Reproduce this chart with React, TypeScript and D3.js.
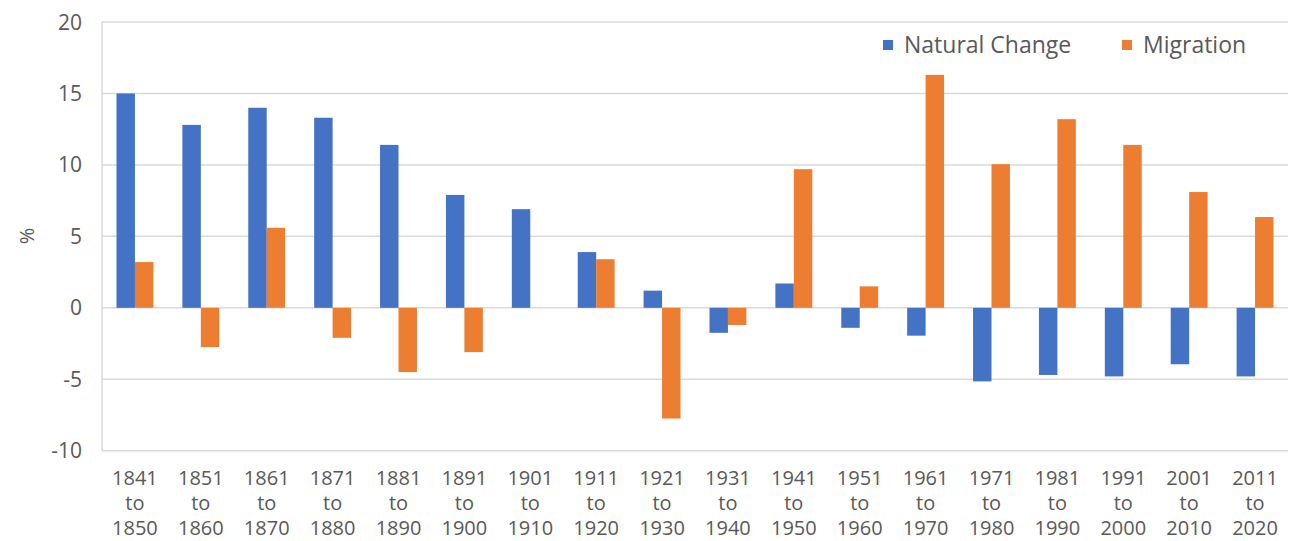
import React from "react";
import * as d3 from "d3";

const categories = [
  ["1841", "1850"], ["1851", "1860"], ["1861", "1870"], ["1871", "1880"],
  ["1881", "1890"], ["1891", "1900"], ["1901", "1910"], ["1911", "1920"],
  ["1921", "1930"], ["1931", "1940"], ["1941", "1950"], ["1951", "1960"],
  ["1961", "1970"], ["1971", "1980"], ["1981", "1990"], ["1991", "2000"],
  ["2001", "2010"], ["2011", "2020"],
];
const naturalChange = [15.0, 12.8, 14.0, 13.3, 11.4, 7.9, 6.9, 3.9, 1.2, -1.75, 1.7, -1.4, -1.95, -5.15, -4.7, -4.8, -3.95, -4.8];
const migration = [3.2, -2.75, 5.6, -2.1, -4.5, -3.1, 0, 3.4, -7.75, -1.2, 9.7, 1.5, 16.3, 10.05, 13.2, 11.4, 8.1, 6.35];
const seriesNames = ["Natural Change", "Migration"];
const yTicks = [-10, -5, 0, 5, 10, 15, 20];

const colors = ["#4472C4", "#ED7D31"];
const W = 1294, H = 541;
const left = 102, right = 1288, top = 22, bottom = 450.7;
const font = "'Open Sans', sans-serif";
const textColor = "#595959";

export default function App() {
  const keys = categories.map((c) => c[0]);
  const x = d3.scaleBand<string>().domain(keys).range([left, right]).paddingInner(0.44).paddingOuter(0.22);
  const xs = d3.scaleBand<string>().domain(seriesNames).range([0, x.bandwidth()]);
  const y = d3.scaleLinear().domain([-10, 20]).range([bottom, top]);
  const series = [naturalChange, migration];

  return (
    <svg width={W} height={H} style={{ position: "absolute", left: 0, top: 0, background: "#fff" }}>
      {yTicks.map((t) => (
        <g key={t}>
          <line x1={left} x2={right} y1={y(t)} y2={y(t)} stroke="#D9D9D9" strokeWidth={1.5} />
          <text x={82} y={y(t)} dy="0.36em" textAnchor="end" fontFamily={font} fontSize={21} fill={textColor}>
            {t}
          </text>
        </g>
      ))}
      <line x1={left} x2={left} y1={top} y2={bottom} stroke="#D9D9D9" strokeWidth={1.5} />
      <text transform={`translate(34,236) rotate(-90)`} textAnchor="middle" fontFamily={font} fontSize={20} fill={textColor}>
        %
      </text>
      {series.map((vals, si) =>
        vals.map((v, i) => {
          const x0 = (x(keys[i]) as number) + (xs(seriesNames[si]) as number);
          const y0 = y(Math.max(0, v));
          const h = Math.abs(y(v) - y(0));
          return <rect key={`${si}-${i}`} x={x0} y={y0} width={xs.bandwidth()} height={h} fill={colors[si]} />;
        })
      )}
      {categories.map((c, i) => {
        const cx = (x(c[0]) as number) + x.bandwidth() / 2;
        return (
          <text key={c[0]} textAnchor="middle" fontFamily={font} fontSize={20} fill={textColor}>
            <tspan x={cx} y={485}>{c[0]}</tspan>
            <tspan x={cx} y={510}>to</tspan>
            <tspan x={cx} y={535}>{c[1]}</tspan>
          </text>
        );
      })}
      {seriesNames.map((n, i) => {
        const lx = [883, 1122][i];
        return (
          <g key={n}>
            <rect x={lx} y={40} width={10} height={10} fill={colors[i]} />
            <text x={lx + 21} y={45} dy="0.36em" fontFamily={font} fontSize={23} fill={textColor}>
              {n}
            </text>
          </g>
        );
      })}
    </svg>
  );
}
